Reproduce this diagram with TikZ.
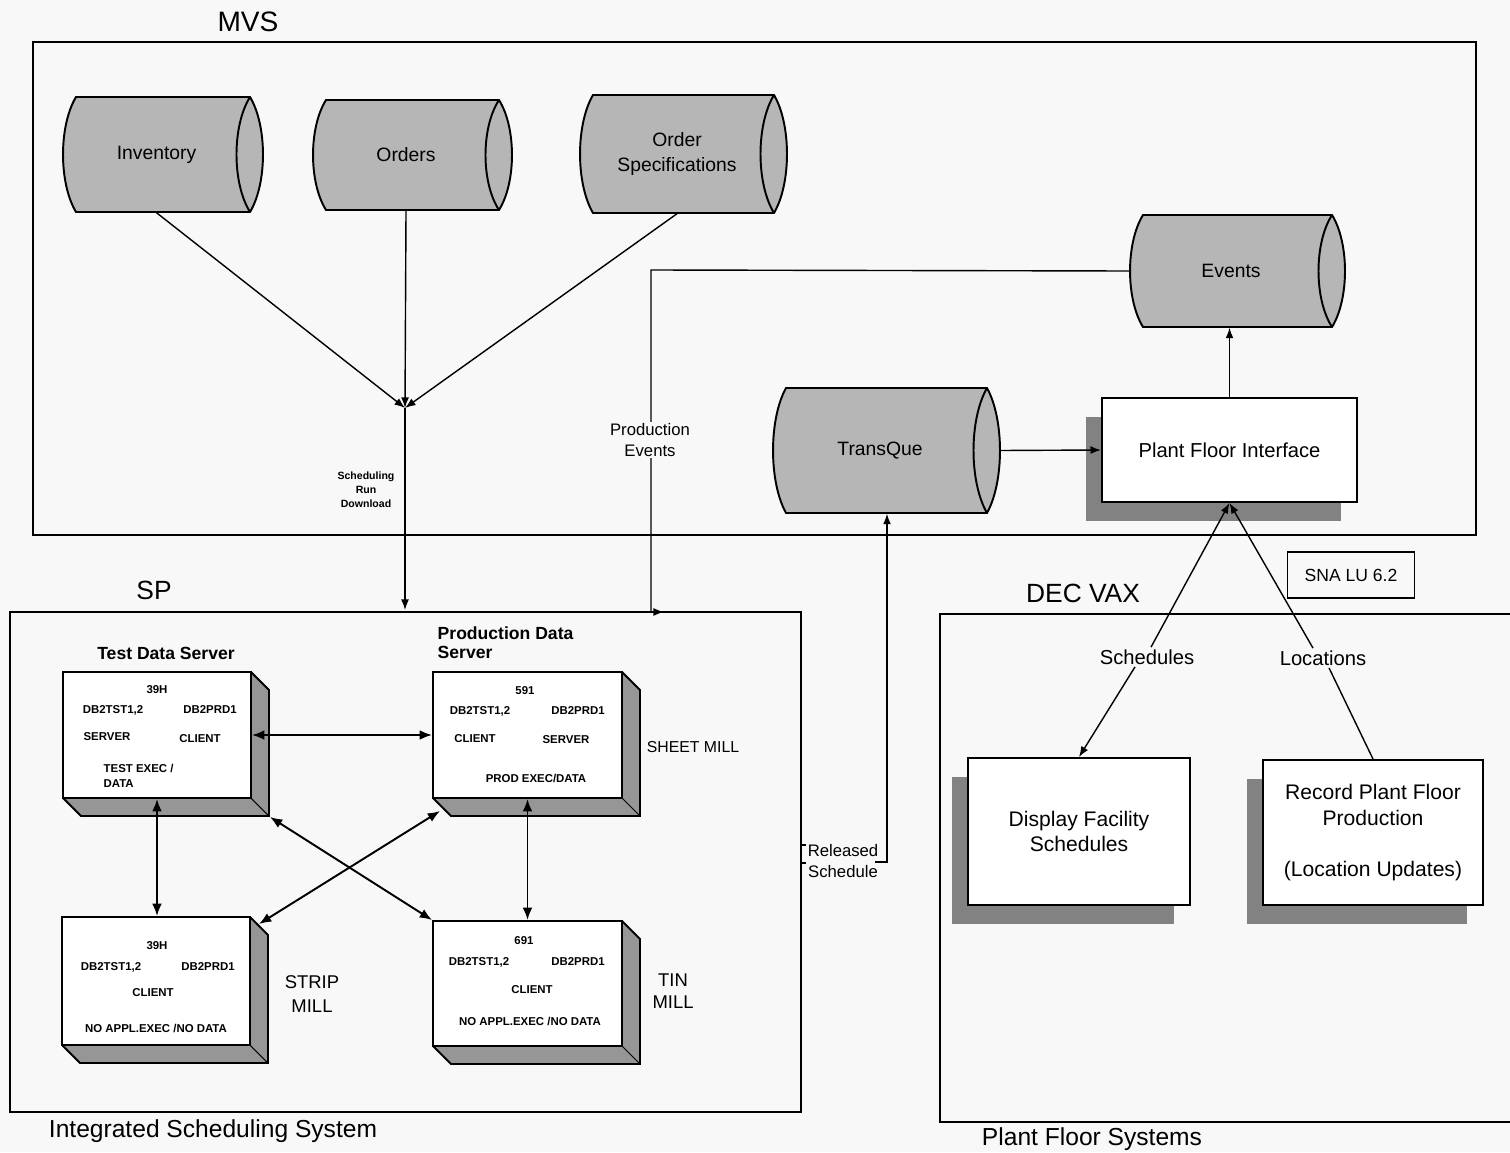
\documentclass[tikz,border=0pt]{standalone}
\usepackage{fontspec}
\setmainfont{Liberation Sans}
\usetikzlibrary{arrows.meta,calc}
\newcommand\fsz[2]{\fontsize{#1pt}{#2pt}\selectfont}
\definecolor{bgc}{RGB}{248,248,248}
\definecolor{drumc}{RGB}{182,182,182}
\definecolor{sidec}{RGB}{150,150,150}
\definecolor{shadc}{RGB}{130,130,130}
% cylinder: name, xl, yt, xr, yb, text
\newcommand\mydrum[6]{%
 \draw[drumpath] ({#2+13},#3) -- ({#4-13},#3)
   .. controls ({#4+4.3},{#3+(#5-#3)/4}) and ({#4+4.3},{#5-(#5-#3)/4}) .. ({#4-13},#5)
   -- ({#2+13},#5)
   .. controls ({#2-4.3},{#5-(#5-#3)/4}) and ({#2-4.3},{#3+(#5-#3)/4}) .. cycle;
 \draw[drumline] ({#4-13},#3) .. controls ({#4-31},{#3+(#5-#3)/4}) and ({#4-31},{#5-(#5-#3)/4}) .. ({#4-13},#5);
 \node[drumtext, minimum width={(#4-#2-13)*0.02cm}, minimum height={(#5-#3)*0.02cm}] (#1) at ({(#2+#4-13)/2},{(#3+#5)/2}) {#6};
}
% 3D server box: name, xl, yt, xr, yb
\newcommand\mysrv[5]{%
 \fill[sidec] (#4,#3) -- ({#4+18},{#3+18}) -- ({#4+18},{#5+18}) -- ({#2+18},{#5+18}) -- (#2,#5) -- (#4,#5) -- cycle;
 \draw[line width=1.1pt] (#4,#3) -- ({#4+18},{#3+18}) -- ({#4+18},{#5+18}) -- ({#2+18},{#5+18}) -- (#2,#5);
 \draw[line width=0.6pt] (#4,#5) -- ({#4+18},{#5+18});
 \node[srvface, minimum width={(#4-#2)*0.02cm}, minimum height={(#5-#3)*0.02cm}] (#1) at ({(#2+#4)/2},{(#3+#5)/2}) {};
}
% flat box with shadow: name, xl, yt, xr, yb, text, style
\newcommand\flatbox[7]{%
 \fill[shadc] ({#2-16},{#3+19}) rectangle ({#4-16},{#5+19});
 \node[flatface,#7,minimum width={(#4-#2)*0.02cm},minimum height={(#5-#3)*0.02cm}] (#1) at ({(#2+#4)/2},{(#3+#5)/2}) {#6};
}
\begin{document}
\begin{tikzpicture}[x=0.02cm,y=-0.02cm,line width=0.8pt,
  drumpath/.style={draw,fill=drumc,line width=1.1pt},
  drumline/.style={draw,line width=1.1pt},
  drumtext/.style={inner sep=0pt,align=center,font=\fsz{11}{14}},
  srvface/.style={draw,fill=white,line width=1.1pt,inner sep=0pt},
  srvtxt/.style={inner sep=0pt,font=\bfseries\fsz{6.5}{8.5}},
  flatface/.style={draw,fill=white,line width=1.1pt,inner sep=0pt,align=center},
  frame/.style={draw,line width=1.2pt},
  title/.style={inner sep=0pt,font=\fsz{16}{19}},
  lbl/.style={inner sep=1pt,fill=bgc,align=center,font=\fsz{9.5}{11.5}},
  arr/.style={-{Latex[length=6pt,width=4.5pt]}},
  barr/.style={{Latex[length=7pt,width=5.5pt]}-{Latex[length=7pt,width=5.5pt]},line width=1.1pt},
]
\fill[bgc] (0,0) rectangle (1510,1152);
\useasboundingbox (0,0) rectangle (1510,1152);

% frames
\draw[frame] (33,42) rectangle (1476,535);
\draw[frame] (10,612) rectangle (801,1112);
\draw[frame] (1512,614) -- (940,614) -- (940,1122) -- (1512,1122);
\node[title] (tmvs) at (248,22) {MVS};
\node[title,font=\fsz{15}{18}] (tsp) at (154,590) {SP};
\node[title,font=\fsz{14}{17}] (tiss) at (213,1131) {Integrated Scheduling System};
\node[title,font=\fsz{15}{18}] (tdv) at (1083,593) {DEC VAX};
\node[title,font=\fsz{14}{17}] (tpfs) at (1092,1139) {Plant Floor Systems};

% cylinders
\mydrum{inv}{63}{97}{263}{212}{Inventory}
\mydrum{ord}{313}{100}{512}{210}{Orders}
\mydrum{spec}{580}{95}{787}{213}{Order\\Specifications}
\mydrum{evt}{1130}{215}{1345}{327}{Events}
\mydrum{tq}{773}{388}{1000}{513}{TransQue}

% MVS to SP
\coordinate (jn) at (405,408);
\coordinate (sptop) at (405,610);
\draw[arr] (inv.south) -- (jn);
\draw[arr] (ord.south) -- (jn);
\draw[arr] (spec.south) -- (jn);
\draw[arr] (jn) -- (sptop);
\node[srvtxt,font=\bfseries\fsz{6}{8},align=center] (srd) at (366,490) {Scheduling\\Run\\Download};

% flat boxes
\flatbox{pfi}{1102}{398}{1357}{502}{Plant Floor Interface}{font=\fsz{11.5}{14}}
\flatbox{dfs}{968}{758}{1190}{905}{Display Facility\\Schedules}{font=\fsz{12}{14.2}}
\flatbox{rpf}{1263}{760}{1483}{905}{Record Plant Floor\\Production\\[14pt](Location Updates)}{font=\fsz{12}{14.7}}

% production events
\coordinate (pe1) at (651,270);
\coordinate (pe2) at (651,612);
\coordinate (pe3) at (664,612);
\draw[arr] (evt.west) -- (pe1) -- (pe2) -- (pe3);
\node[lbl] (lpe) at (650,440) {Production\\Events};

% TransQue, PFI, Events
\draw[arr] ($(tq.east)+(13,0)$) -- (pfi.west);
\draw[arr] (pfi.north) -- (pfi.north |- evt.south);

% released schedule
\coordinate (rs1) at (875,862);
\coordinate (rs2) at (887,862);
\draw[arr] (rs1) -- (rs2) -- (rs2 |- tq.south);
\draw (801,845) -- (806,845);
\draw (801,863) -- (806,863);
\node[lbl,fill=none] (lrs) at (843,861) {Released\\Schedule};

% SNA
\node[draw,line width=1pt,minimum width=2.54cm,minimum height=0.92cm,font=\fsz{10}{12}] (sna) at (1351,575) {SNA LU 6.2};

% schedules / locations
\node[lbl,font=\fsz{11.5}{14}] (lsch) at (1147,657) {Schedules};
\node[lbl,font=\fsz{11.5}{14}] (lloc) at (1323,658) {Locations};
\draw[arr] ($(lsch.north)+(4,0)$) -- (pfi.south);
\draw[arr] ($(lloc.north)+(-10,0)$) -- (pfi.south);
\draw[arr] ($(lsch.south)+(-12,0)$) -- (dfs.north);
\draw ($(lloc.south)+(6,0)$) -- (rpf.north);

% server boxes
\mysrv{test}{63}{672}{251}{798}
\mysrv{prod}{433}{672}{622}{798}
\mysrv{strip}{62}{917}{250}{1045}
\mysrv{tin}{433}{921}{622}{1046}

\node[inner sep=0pt,font=\bfseries\fsz{10}{10.8}] (ttest) at (166,653) {Test Data Server};
\node[inner sep=0pt,font=\bfseries\fsz{10}{10.8},align=left,anchor=west] (tprod) at (437,643) {Production Data\\Server};

\node[srvtxt] (a1) at (157,690) {39H};
\node[srvtxt] (a2) at (113,710) {DB2TST1,2};
\node[srvtxt] (a3) at (210,710) {DB2PRD1};
\node[srvtxt] (a4) at (107,737) {SERVER};
\node[srvtxt] (a5) at (200,739) {CLIENT};
\node[srvtxt,align=left,anchor=west] (a6) at (103,776) {TEST EXEC /\\DATA};

\node[srvtxt] (b1) at (525,691) {591};
\node[srvtxt] (b2) at (480,711) {DB2TST1,2};
\node[srvtxt] (b3) at (578,711) {DB2PRD1};
\node[srvtxt] (b4) at (475,739) {CLIENT};
\node[srvtxt] (b5) at (566,740) {SERVER};
\node[srvtxt] (b6) at (536,778) {PROD EXEC/DATA};
\node[inner sep=0pt,font=\fsz{9}{11}] (sheet) at (693,747) {SHEET MILL};

\node[srvtxt] (c1) at (157,946) {39H};
\node[srvtxt] (c2) at (111,967) {DB2TST1,2};
\node[srvtxt] (c3) at (208,967) {DB2PRD1};
\node[srvtxt] (c4) at (153,993) {CLIENT};
\node[srvtxt] (c5) at (156,1028) {NO APPL.EXEC /NO DATA};
\node[inner sep=0pt,align=center,font=\fsz{10.5}{13.5}] (smill) at (312,994) {STRIP\\MILL};

\node[srvtxt] (d1) at (524,941) {691};
\node[srvtxt] (d2) at (479,962) {DB2TST1,2};
\node[srvtxt] (d3) at (578,962) {DB2PRD1};
\node[srvtxt] (d4) at (532,990) {CLIENT};
\node[srvtxt] (d5) at (530,1021) {NO APPL.EXEC /NO DATA};
\node[inner sep=0pt,align=center,font=\fsz{10.5}{12.5}] (tmill) at (673,991) {TIN\\MILL};

% server connectors
\draw[barr] (test.east) -- (prod.west);
\draw[barr] (test.south) -- (test.south |- strip.north);
\draw[barr] (prod.south) -- (prod.south |- tin.north);
\draw[barr] ($(test.south east)+(18,18)$) -- (tin.north west);
\draw[barr] ($(strip.north east)+(8,8)$) -- ($(prod.south west)+(8,12)$);
\end{tikzpicture}
\end{document}
